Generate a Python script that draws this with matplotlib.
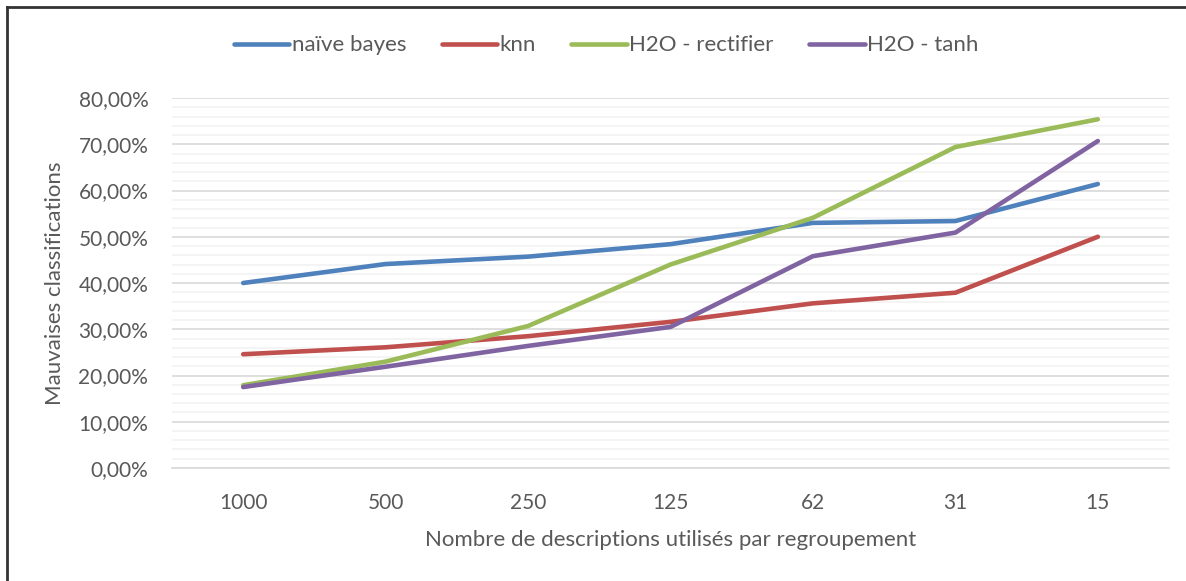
import matplotlib.pyplot as plt
from matplotlib.lines import Line2D
from matplotlib.ticker import MultipleLocator, FuncFormatter

# Données : taux de mauvaises classifications (%) selon la taille des regroupements
categories = ["1000", "500", "250", "125", "62", "31", "15"]
naive_bayes = [40.0, 44.1, 45.7, 48.4, 53.0, 53.4, 61.4]
knn = [24.6, 26.1, 28.5, 31.6, 35.6, 37.9, 50.0]
h2o_rectifier = [17.9, 23.0, 30.7, 44.0, 54.1, 69.4, 75.4]
h2o_tanh = [17.5, 21.9, 26.4, 30.5, 45.8, 50.9, 70.7]

series = [
    ("naïve bayes", naive_bayes, "#4F81BD"),
    ("knn", knn, "#C0504D"),
    ("H2O - rectifier", h2o_rectifier, "#9BBB59"),
    ("H2O - tanh", h2o_tanh, "#8064A2"),
]

plt.rcParams['font.family'] = ['Lato', 'DejaVu Sans']
texte = '#595959'

fig = plt.figure(figsize=(11.86, 5.81), dpi=100)
ax = fig.add_axes([0.145, 0.1945, 0.8407, 0.6368])

x = range(len(categories))
lignes = []
for nom, valeurs, couleur in series:
    l, = ax.plot(x, valeurs, color=couleur, lw=3.3, solid_capstyle='round',
                 solid_joinstyle='round', label=nom, zorder=3)
    lignes.append(l)

ax.set_xlim(-0.5, len(categories) - 0.5)
ax.set_ylim(0, 80)
ax.yaxis.set_major_locator(MultipleLocator(10))
ax.yaxis.set_minor_locator(MultipleLocator(2))
ax.yaxis.set_major_formatter(FuncFormatter(lambda v, p: f"{v:.2f}%".replace('.', ',')))
ax.set_xticks(list(x))
ax.set_xticklabels(categories)

ax.grid(axis='y', which='minor', color='#F2F2F2', lw=1.2, zorder=0)
ax.grid(axis='y', which='major', color='#D9D9D9', lw=1.2, zorder=1)
ax.set_axisbelow(True)
for s in ['top', 'right', 'left']:
    ax.spines[s].set_visible(False)
ax.spines['bottom'].set_color('#D9D9D9')
ax.spines['bottom'].set_linewidth(1.2)

ax.tick_params(axis='both', which='both', length=0, labelsize=15, colors=texte)
ax.tick_params(axis='y', pad=17)
ax.tick_params(axis='x', pad=18)

ax.set_xlabel("Nombre de descriptions utilisés par regroupement", fontsize=16,
              color=texte, labelpad=12)
ax.set_ylabel("Mauvaises classifications", fontsize=16, color=texte, labelpad=10)

fig.legend(handles=lignes, loc='center', bbox_to_anchor=(0.511, 0.922), ncol=4,
           frameon=False, fontsize=16, handlelength=2.5, handletextpad=0.1,
           columnspacing=1.6, labelcolor=texte)

# Cadre du graphique (bords haut et gauche)
fig.add_artist(Line2D([0.006, 0.006], [0.0, 0.988], transform=fig.transFigure,
                      color='#333333', lw=2))
fig.add_artist(Line2D([0.006, 1.0], [0.988, 0.988], transform=fig.transFigure,
                      color='#333333', lw=2))

fig.savefig("out.png", dpi=100, facecolor='white')
